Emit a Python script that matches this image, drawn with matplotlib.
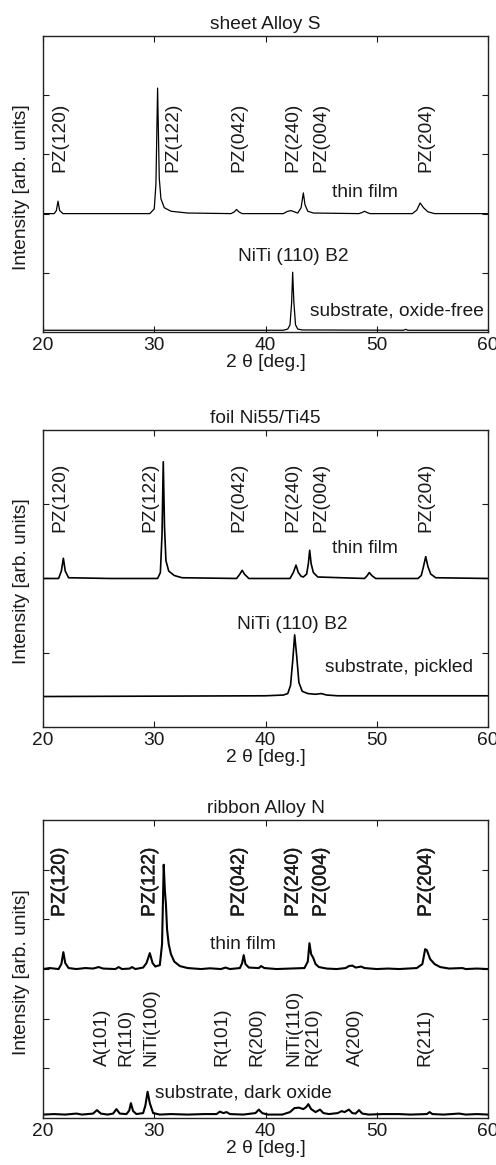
"""
XRD patterns of PZ thin films on three NiTi substrates, stacked in one figure.
"""
import matplotlib

matplotlib.use("Agg")
import matplotlib.pyplot as plt
import matplotlib.patheffects as pe
from matplotlib.axes import Axes

FONT_SIZE = 13.8
plt.rcParams["font.family"] = ["Liberation Sans", "DejaVu Sans"]
plt.rcParams["font.size"] = FONT_SIZE

# --- sheet Alloy S ---------------------------------------------------------
sheet_film_x = [20, 21.0, 21.2, 21.35, 21.5, 21.8, 25, 29.6, 30.0, 30.15, 30.3,
                30.45, 30.6, 30.9, 31.5, 33, 36.9, 37.2, 37.4, 37.6, 37.9, 41.6,
                42.0, 42.3, 42.6, 42.9, 43.2, 43.4, 43.55, 43.8, 44.3, 48.4,
                48.7, 48.9, 49.1, 49.4, 53.2, 53.6, 53.9, 54.2, 54.6, 55.2, 60]
sheet_film_y = [2.0, 2.0, 2.05, 2.21, 2.05, 2.0, 2.0, 2.0, 2.08, 2.5, 4.12,
                2.6, 2.25, 2.1, 2.04, 2.01, 2.0, 2.03, 2.07, 2.03, 2.0, 2.0,
                2.04, 2.05, 2.03, 2.01, 2.1, 2.35, 2.15, 2.04, 2.01, 2.0,
                2.02, 2.04, 2.02, 2.0, 2.0, 2.06, 2.18, 2.1, 2.03, 2.0, 2.0]
sheet_sub_x = [20, 41.6, 42.0, 42.2, 42.35, 42.44, 42.55, 42.7, 42.9, 43.3,
               52.4, 52.6, 52.8, 60]
sheet_sub_y = [0.03, 0.03, 0.05, 0.12, 0.5, 1.01, 0.5, 0.12, 0.05, 0.035,
               0.03, 0.045, 0.03, 0.03]

# --- foil Ni55/Ti45 --------------------------------------------------------
foil_film_x = [20, 21.4, 21.65, 21.83, 22.0, 22.3, 26, 30.3, 30.55, 30.7, 30.81,
               30.92, 31.05, 31.3, 31.8, 32.5, 37.4, 37.7, 37.9, 38.1, 38.5,
               42.2, 42.5, 42.74, 42.95, 43.2, 43.4, 43.7, 43.85, 43.97, 44.1,
               44.3, 44.7, 48.9, 49.15, 49.33, 49.55, 49.9, 53.7, 54.0, 54.2,
               54.4, 54.6, 54.85, 55.3, 60]
foil_film_y = [1.0, 1.0, 1.05, 1.136, 1.05, 1.005, 1.0, 1.0, 1.04, 1.3, 1.786,
               1.35, 1.12, 1.05, 1.02, 1.005, 1.0, 1.03, 1.055, 1.03, 1.0,
               1.0, 1.04, 1.09, 1.04, 1.015, 1.01, 1.03, 1.1, 1.19, 1.1,
               1.04, 1.01, 1.0, 1.02, 1.04, 1.02, 1.0, 1.0, 1.02, 1.08,
               1.147, 1.08, 1.03, 1.005, 1.0]
foil_sub_x = [20, 40, 41.6, 42.0, 42.25, 42.45, 42.62, 42.8, 43.0, 43.3, 43.8,
              44.5, 45.0, 45.5, 46.5, 60]
foil_sub_y = [0.205, 0.21, 0.215, 0.225, 0.28, 0.45, 0.62, 0.48, 0.3, 0.24,
              0.225, 0.22, 0.225, 0.215, 0.21, 0.21]

# --- ribbon Alloy N --------------------------------------------------------
ribbon_film_x = [20, 20.6, 21.4, 21.65, 21.83, 22.0, 22.3, 23, 23.8, 24.5, 25,
                 25.4, 26.5, 26.8, 27.1, 27.8, 28.0, 28.3, 29.0, 29.3, 29.6,
                 29.85, 30.1, 30.5, 30.7, 30.85, 30.95, 31.05, 31.15, 31.3,
                 31.5, 31.8, 32.3, 33, 34.2, 35, 36, 36.4, 36.8, 37.7, 37.9,
                 38.04, 38.2, 38.5, 39.4, 39.6, 39.9, 41, 42.2, 43.5, 43.8,
                 43.95, 44.1, 44.3, 44.5, 44.8, 45.5, 46.4, 47.2, 47.5, 47.8,
                 48.1, 48.6, 48.9, 50, 51, 52, 53.6, 54.1, 54.35, 54.5, 54.8,
                 55.2, 55.7, 56.5, 57.7, 58, 59, 60]
ribbon_film_y = [3.0, 3.02, 3.0, 3.1, 3.34, 3.12, 3.02, 3.0, 3.02, 3.01, 3.04,
                 3.01, 3.0, 3.04, 3.0, 3.01, 3.04, 3.0, 3.03, 3.12, 3.32,
                 3.12, 3.05, 3.08, 3.5, 5.1, 4.6, 4.3, 3.8, 3.5,
                 3.3, 3.15, 3.06, 3.02, 3.0, 3.015, 3.0, 3.03, 3.0, 3.02, 3.12,
                 3.28, 3.1, 3.03, 3.02, 3.06, 3.02, 3.0, 3.01, 3.02, 3.15,
                 3.52, 3.3, 3.22, 3.1, 3.04, 3.01, 3.0, 3.02, 3.06, 3.07,
                 3.03, 3.05, 3.02, 3.0, 3.01, 3.0, 3.02, 3.1, 3.4, 3.38, 3.2,
                 3.1, 3.04, 3.01, 3.02, 3.0, 3.01, 3.0]
ribbon_sub_x = [20, 21, 22, 23, 23.5, 24.5, 24.85, 25.2, 25.8, 26.3, 26.6, 26.9,
                27.5, 27.75, 27.9, 28.1, 28.4, 29.0, 29.2, 29.4, 29.6, 29.9,
                30.5, 31.5, 33, 34.5, 35.6, 35.9, 36.2, 36.5, 36.8, 38, 39.1,
                39.4, 39.7, 40.2, 41.5, 42.2, 42.6, 43.0, 43.4, 43.65, 43.85,
                44.1, 44.5, 44.9, 45.2, 45.7, 46.5, 46.85, 47.1, 47.5, 47.8,
                48.1, 48.4, 48.7, 49.3, 50.5, 52, 53, 54.5, 54.75, 55.0, 56,
                57.4, 58, 59, 60]
ribbon_sub_y = [0.07, 0.08, 0.07, 0.09, 0.07, 0.09, 0.16, 0.09, 0.07, 0.09,
                0.18, 0.09, 0.08, 0.15, 0.30, 0.14, 0.08, 0.1, 0.25, 0.53, 0.3,
                0.1, 0.07, 0.08, 0.07, 0.08, 0.08, 0.13, 0.1, 0.12, 0.08, 0.07,
                0.1, 0.17, 0.1, 0.07, 0.07, 0.12, 0.2, 0.21, 0.18, 0.22, 0.28,
                0.18, 0.12, 0.17, 0.1, 0.08, 0.1, 0.14, 0.12, 0.17, 0.1, 0.09,
                0.16, 0.09, 0.07, 0.08, 0.08, 0.07, 0.08, 0.12, 0.08, 0.07,
                0.09, 0.07, 0.08, 0.07]

# --- peak labels -----------------------------------------------------------
pz_labels = ["PZ(120)", "PZ(122)", "PZ(042)", "PZ(240)", "PZ(004)", "PZ(204)"]
pz_pos_sheet = [21.5, 31.65, 37.6, 42.5, 45.0, 54.4]
pz_pos_other = [21.5, 29.6, 37.65, 42.5, 45.0, 54.45]
sub_labels = ["A(101)", "R(110)", "NiTi(100)", "R(101)", "R(200)",
              "NiTi(110)", "R(210)", "A(200)", "R(211)"]
sub_pos = [25.35, 27.45, 29.7, 36.05, 39.25, 42.55, 44.3, 48.05, 54.35]

x_ticks = [20, 30, 40, 50, 60]
TEXT_COLOR = "#1a1a1a"


def style_axes(ax: Axes, title: str, ylim: float, yticks: list) -> None:
    """
    Common MATLAB-like styling of one panel.

    Args:
        ax (Axes): the axes to style.
        title (str): panel title.
        ylim (float): upper y limit.
        yticks (list): y tick positions (no labels).
    """
    ax.set_xlim(20, 60)
    ax.set_ylim(0, ylim)
    ax.set_xticks(x_ticks)
    ax.set_yticks(yticks)
    ax.set_yticklabels([])
    ax.tick_params(direction="in", top=True, right=True, length=4, width=0.8,
                   pad=3.5, labelsize=FONT_SIZE, colors=TEXT_COLOR)
    for spine in ax.spines.values():
        spine.set_linewidth(1.0)
        spine.set_color("#222222")
    ax.set_title(title, fontsize=FONT_SIZE, pad=5, color=TEXT_COLOR)
    ax.set_xlabel("2 θ [deg.]", labelpad=0, color=TEXT_COLOR)
    ax.set_ylabel("Intensity [arb. units]", color=TEXT_COLOR)
    ax.yaxis.set_label_coords(-0.03, 0.49)


def add_labels(ax: Axes, labels: list, positions: list, y: float,
               heavy: bool = False) -> None:
    """
    Write vertical peak labels whose bottom sits at y.
    """
    effects = [pe.withStroke(linewidth=0.3, foreground=TEXT_COLOR)] if heavy else None
    for label, pos in zip(labels, positions):
        ax.text(pos, y, label, rotation=90, ha="center", va="bottom",
                color=TEXT_COLOR, path_effects=effects)


fig = plt.figure(figsize=(4.96, 11.65), dpi=100)
ax1 = fig.add_axes([0.0867, 0.7150, 0.8972, 0.2541])
ax2 = fig.add_axes([0.0867, 0.3760, 0.8972, 0.2549])
ax3 = fig.add_axes([0.0867, 0.0403, 0.8972, 0.2558])

# panel 1
ax1.plot(sheet_film_x, sheet_film_y, color="black", lw=0.9)
ax1.plot(sheet_sub_x, sheet_sub_y, color="black", lw=0.9)
style_axes(ax1, "sheet Alloy S", 5, [1, 2, 3, 4])
add_labels(ax1, pz_labels, pz_pos_sheet, 2.70)
ax1.text(48.95, 2.36, "thin film", ha="center", va="center", color=TEXT_COLOR)
ax1.text(42.47, 1.27, "NiTi (110) B2", ha="center", va="center", color=TEXT_COLOR)
ax1.text(59.6, 0.36, "substrate, oxide-free", ha="right", va="center",
         color=TEXT_COLOR)

# panel 2
ax2.plot(foil_film_x, foil_film_y, color="black", lw=1.2)
ax2.plot(foil_sub_x, foil_sub_y, color="black", lw=1.2)
style_axes(ax2, "foil Ni55/Ti45", 2, [0.5, 1.0, 1.5])
add_labels(ax2, pz_labels, pz_pos_other, 1.316)
ax2.text(48.95, 1.20, "thin film", ha="center", va="center", color=TEXT_COLOR)
ax2.text(42.45, 0.69, "NiTi (110) B2", ha="center", va="center", color=TEXT_COLOR)
ax2.text(52.0, 0.40, "substrate, pickled", ha="center", va="center",
         color=TEXT_COLOR)

# panel 3
ax3.plot(ribbon_film_x, ribbon_film_y, color="black", lw=1.5)
ax3.plot(ribbon_sub_x, ribbon_sub_y, color="black", lw=1.5)
style_axes(ax3, "ribbon Alloy N", 6, [1, 2, 3, 4, 5])
add_labels(ax3, pz_labels, pz_pos_other, 4.05, heavy=True)
add_labels(ax3, sub_labels, sub_pos, 1.05)
ax3.text(38.0, 3.49, "thin film", ha="center", va="center", color=TEXT_COLOR)
ax3.text(38.0, 0.50, "substrate, dark oxide", ha="center", va="center",
         color=TEXT_COLOR)

fig.savefig("out.png", dpi=100)
